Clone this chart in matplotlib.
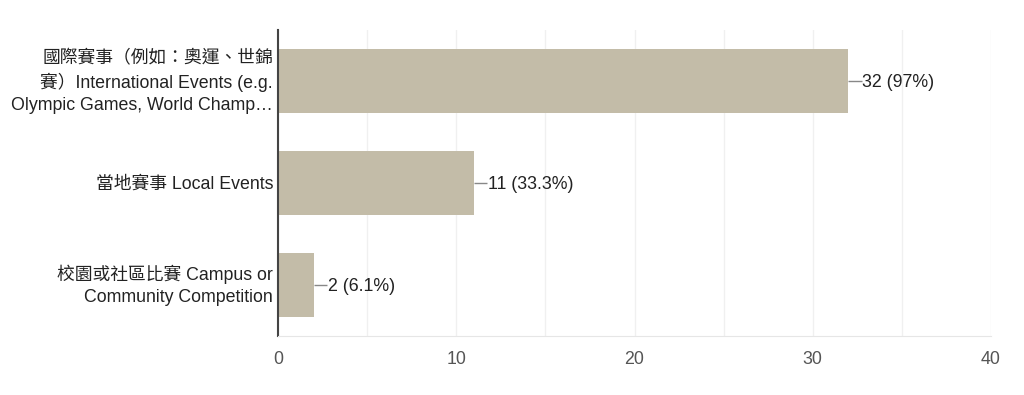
import matplotlib
matplotlib.use("Agg")
import matplotlib.pyplot as plt
import numpy as np

plt.rcParams['font.family'] = ['Liberation Sans', 'Noto Sans CJK TC', 'DejaVu Sans']

categories = [
    "國際賽事（例如：奧運、世錦\n賽）International Events (e.g.\nOlympic Games, World Champ…",
    "當地賽事 Local Events",
    "校園或社區比賽 Campus or\nCommunity Competition",
]
counts = [32, 11, 2]
labels = ["32 (97%)", "11 (33.3%)", "2 (6.1%)"]
xticks = [0, 10, 20, 30, 40]

PX = 0.72  # points per pixel at dpi 100
FS = 12.8

fig = plt.figure(figsize=(10.24, 3.95), dpi=100)
ax = fig.add_axes([278/1024, 1-336/395, (991-278)/1024, (336-30)/395])

y = np.arange(len(categories))
ax.barh(y, counts, height=0.62, color='#c3bca8', zorder=2)
ax.set_ylim(2.5, -0.5)
ax.set_xlim(0, 40)
ax.set_xticks(xticks)
ax.set_xticks(np.arange(0, 41, 5), minor=True)
ax.grid(axis='x', which='both', color='#f0f0f0', linewidth=1, zorder=0)
ax.set_yticks(y)
ax.set_yticklabels([])
ax.tick_params(axis='y', length=0, pad=3)
ax.tick_params(axis='x', which='both', length=0, pad=11, labelsize=FS, labelcolor='#555555')
for s in ['top', 'right']:
    ax.spines[s].set_visible(False)
ax.spines['left'].set_color('#444444')
ax.spines['left'].set_linewidth(1.5)
ax.spines['bottom'].set_color('#e6e6e6')

# category labels, line by line with uniform spacing
line_h = 23.5
for yi, cat in zip(y, categories):
    lines = cat.split("\n")
    n = len(lines)
    for k, ln in enumerate(lines):
        off = ((n - 1) / 2 - k) * line_h
        ax.annotate(ln, xy=(0, yi), xycoords=('axes fraction', 'data'),
                    xytext=(-5 * PX, (off - 1) * PX), textcoords='offset points',
                    ha='right', va='center', fontsize=FS, color='#222222',
                    annotation_clip=False)

for yi, c, lab in zip(y, counts, labels):
    ax.plot([c, c + 0.75], [yi, yi], color='#888888', lw=1, zorder=3, solid_capstyle='butt')
    ax.annotate(lab, xy=(c + 0.78, yi), xytext=(0, -1.5 * PX), textcoords='offset points',
                va='center', ha='left', fontsize=FS, color='#222222')

fig.savefig('out.png', dpi=100, facecolor='white')
